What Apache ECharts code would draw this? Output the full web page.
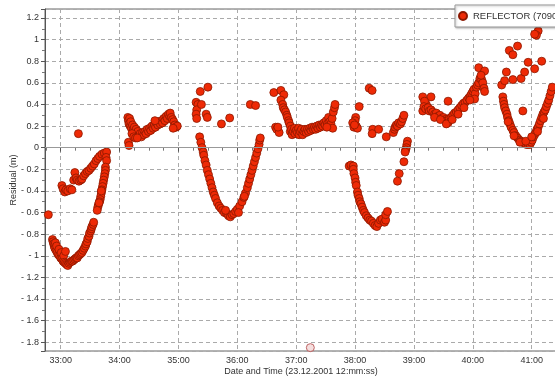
<!DOCTYPE html>
<html>
<head>
<meta charset="utf-8">
<script src="https://cdn.jsdelivr.net/npm/echarts@6/dist/echarts.min.js"></script>
<style>
  html, body { margin: 0; padding: 0; background: #fff; }
  #chart { width: 555px; height: 377px; }
</style>
</head>
<body>
<div id="chart"></div>
<script>
// time in minutes past 12:00 (23.12.2001), residual in metres
const pass1 = [
  [32.79,-0.62],[33.30,0.13],
  [32.86,-0.85],[32.87,-0.87],[32.88,-0.89],[32.89,-0.91],[32.90,-0.93],[32.91,-0.88],[32.92,-0.95],[32.93,-0.91],
  [32.94,-0.97],[32.96,-0.99],[32.97,-0.94],[32.98,-1.00],[33.00,-1.02],[33.01,-0.97],[33.02,-1.03],[33.04,-1.05],
  [33.05,-1.00],[33.06,-1.06],[33.08,-1.07],[33.10,-1.08],[33.12,-1.09],[33.14,-1.07],[33.16,-1.06],[33.18,-1.05],
  [33.20,-1.05],[33.22,-1.04],[33.24,-1.03],[33.26,-1.02],[33.28,-1.02],[33.30,-1.00],[33.32,-0.99],[33.34,-0.98],
  [33.36,-0.97],[33.38,-0.95],[33.40,-0.93],[33.42,-0.91],[33.43,-0.89],[33.45,-0.87],[33.46,-0.84],[33.48,-0.82],
  [33.49,-0.79],[33.51,-0.77],[33.52,-0.75],[33.53,-0.73],[33.55,-0.71],[33.56,-0.69],[33.08,-0.96],
  [33.02,-0.35],[33.04,-0.38],[33.07,-0.41],[33.09,-0.39],[33.12,-0.40],[33.16,-0.38],[33.19,-0.39],[33.22,-0.30],
  [33.24,-0.23],[33.26,-0.28],[33.28,-0.30],[33.31,-0.31],[33.34,-0.30],[33.36,-0.29],[33.39,-0.26],[33.42,-0.24],
  [33.45,-0.22],[33.48,-0.21],[33.51,-0.19],[33.54,-0.17],[33.57,-0.15],[33.60,-0.12],[33.63,-0.10],[33.66,-0.08],
  [33.70,-0.06],[33.74,-0.05],[33.78,-0.04],[33.77,-0.09],[33.78,-0.12],
  [33.76,-0.18],[33.76,-0.21],[33.75,-0.24],[33.74,-0.27],[33.73,-0.30],[33.72,-0.33],[33.71,-0.36],[33.70,-0.39],
  [33.69,-0.42],[33.68,-0.45],[33.67,-0.48],[33.66,-0.50],[33.64,-0.53],[33.63,-0.55],[33.62,-0.58],[33.65,-0.51],[33.69,-0.40]
];
const pass2 = [
  [34.15,0.05],[34.16,0.02],
  [34.14,0.28],[34.15,0.25],[34.16,0.22],[34.17,0.27],[34.18,0.20],[34.19,0.24],[34.20,0.18],[34.22,0.21],[34.23,0.16],
  [34.25,0.19],[34.26,0.14],[34.28,0.17],[34.29,0.12],[34.31,0.15],[34.33,0.11],[34.35,0.13],[34.37,0.10],[34.39,0.14],
  [34.41,0.12],[34.43,0.15],[34.45,0.13],[34.47,0.17],[34.49,0.15],[34.51,0.18],[34.53,0.16],[34.55,0.20],[34.57,0.18],
  [34.59,0.21],[34.61,0.19],[34.63,0.23],[34.65,0.21],[34.67,0.24],[34.69,0.22],[34.71,0.25],[34.73,0.23],[34.75,0.27],
  [34.77,0.25],[34.79,0.29],[34.81,0.27],[34.83,0.31],[34.85,0.29],[34.86,0.32],[34.88,0.28],[34.90,0.26],[34.92,0.24],
  [34.94,0.21],[34.96,0.19],[34.98,0.20],[34.91,0.18],[34.60,0.25],[34.21,0.13],[34.24,0.10],[34.27,0.09],[34.30,0.09]
];
const pass3 = [
  [35.50,0.56],[35.37,0.52],[35.30,0.42],[35.33,0.40],[35.31,0.35],[35.30,0.31],[35.31,0.27],[35.39,0.40],
  [35.47,0.31],[35.49,0.28],[35.73,0.22],[35.87,0.275],[36.22,0.40],[36.31,0.39],
  [35.36,0.10],[35.38,0.05],[35.40,0.00],[35.42,-0.04],[35.43,-0.07],[35.45,-0.12],[35.47,-0.16],[35.49,-0.21],
  [35.51,-0.25],[35.53,-0.29],[35.55,-0.33],[35.57,-0.37],[35.59,-0.41],[35.61,-0.44],[35.63,-0.47],[35.66,-0.51],
  [35.69,-0.54],[35.72,-0.56],[35.75,-0.58],[35.78,-0.60],[35.82,-0.61],[35.85,-0.63],[35.88,-0.64],
  [35.91,-0.62],[35.94,-0.61],[35.97,-0.59],[36.00,-0.57],[36.04,-0.54],[36.08,-0.50],[36.11,-0.46],[36.14,-0.42],
  [36.17,-0.37],[36.19,-0.33],[36.21,-0.29],[36.23,-0.25],[36.25,-0.21],[36.27,-0.17],[36.29,-0.13],[36.31,-0.09],
  [36.33,-0.05],[36.35,-0.01],[36.37,0.03],[36.38,0.07],[36.39,0.09],[35.80,-0.58],[36.02,-0.60],[36.12,-0.45]
];
const pass4 = [
  [36.62,0.51],[36.74,0.53],[36.79,0.49],[36.74,0.44],[36.77,0.40],[36.78,0.37],[36.80,0.35],[36.82,0.33],[36.84,0.30],
  [36.85,0.28],[36.87,0.25],[36.88,0.23],[36.90,0.20],[36.65,0.19],[36.67,0.17],[36.71,0.14],[36.69,0.19],
  [36.90,0.15],[36.92,0.17],[36.93,0.12],[36.95,0.15],[36.97,0.18],[36.98,0.13],[37.00,0.16],[37.02,0.14],[37.04,0.18],
  [37.05,0.12],[37.07,0.15],[37.09,0.17],[37.11,0.12],[37.13,0.15],[37.15,0.17],[37.17,0.14],[37.19,0.17],[37.21,0.15],
  [37.23,0.18],[37.25,0.16],[37.27,0.19],[37.29,0.17],[37.31,0.19],[37.33,0.17],[37.35,0.20],[37.37,0.18],[37.39,0.21],
  [37.41,0.19],[37.43,0.21],[37.45,0.20],[37.47,0.23],[37.49,0.21],[37.51,0.25],[37.53,0.22],[37.55,0.28],[37.57,0.24],
  [37.59,0.22],[37.61,0.27],[37.63,0.33],[37.65,0.37],[37.66,0.40],[37.62,0.18],[37.52,0.19]
];
const pass5 = [
  [38.07,0.38],[38.01,0.28],[38.00,0.25],[37.96,0.23],[37.98,0.19],[38.02,0.20],[38.04,0.18],[37.99,0.21],
  [38.24,0.55],[38.29,0.53],[38.30,0.17],[38.29,0.13],[38.40,0.17],[38.53,0.10],[38.65,0.14],[38.67,0.17],[38.68,0.19],
  [38.70,0.21],[38.72,0.20],[38.74,0.23],[38.77,0.22],[38.79,0.24],[38.81,0.27],[38.83,0.30],
  [38.89,0.06],[38.88,0.03],[38.87,0.00],[38.86,-0.02],[38.85,-0.04],[38.83,-0.13],[38.75,-0.24],[38.72,-0.31],
  [37.90,-0.17],[37.93,-0.16],[37.97,-0.17],[37.97,-0.20],[37.98,-0.24],[38.00,-0.28],[38.01,-0.32],[38.02,-0.35],
  [38.04,-0.41],[38.05,-0.44],[38.07,-0.47],[38.08,-0.50],[38.10,-0.52],[38.12,-0.55],[38.14,-0.58],[38.16,-0.60],
  [38.19,-0.63],[38.22,-0.65],[38.25,-0.67],[38.28,-0.68],[38.31,-0.70],[38.34,-0.72],[38.37,-0.73],[38.40,-0.70],
  [38.43,-0.67],[38.46,-0.66],[38.50,-0.69],[38.52,-0.67],[38.52,-0.62],[38.55,-0.59]
];
const pass6 = [
  [39.15,0.47],[39.29,0.47],[39.21,0.40],[39.18,0.43],[39.15,0.34],[39.17,0.38],[39.20,0.36],[39.24,0.37],[39.26,0.34],
  [39.29,0.35],[39.32,0.33],[39.35,0.31],[39.38,0.32],[39.41,0.29],[39.44,0.30],[39.47,0.27],[39.50,0.28],[39.53,0.26],
  [39.56,0.25],[39.58,0.23],[39.60,0.27],[39.63,0.28],[39.66,0.30],[39.69,0.32],[39.72,0.33],[39.75,0.35],[39.78,0.37],
  [39.81,0.39],[39.84,0.41],[39.87,0.42],[39.90,0.44],[39.93,0.46],[39.96,0.48],[39.98,0.50],[40.00,0.52],[40.02,0.54],
  [40.04,0.50],[40.06,0.56],[40.08,0.58],[40.10,0.60],[40.12,0.64],[40.15,0.63],[40.17,0.60],[40.19,0.55],[40.20,0.52],
  [40.10,0.74],[40.20,0.71],[40.14,0.67],[39.58,0.43],[40.03,0.45],
  [39.35,0.28],[39.45,0.26],[39.55,0.22],[39.65,0.26],[39.75,0.31],[39.85,0.37],[39.95,0.44]
];
const pass7 = [
  [40.49,0.58],[40.51,0.47],[40.52,0.43],[40.53,0.40],[40.54,0.37],[40.56,0.34],[40.58,0.31],[40.59,0.28],[40.61,0.25],
  [40.63,0.22],[40.65,0.19],[40.68,0.16],[40.70,0.14],[40.73,0.11],[40.76,0.09],[40.79,0.07],[40.82,0.06],[40.85,0.05],
  [40.88,0.04],[40.91,0.03],[40.94,0.03],[40.97,0.03],[40.99,0.05],[41.01,0.07],[41.03,0.10],[41.05,0.12],[41.07,0.14],
  [41.09,0.17],[41.11,0.19],[41.13,0.22],[41.15,0.25],[41.17,0.28],[41.19,0.31],[41.21,0.33],[41.23,0.35],[41.25,0.38],
  [41.27,0.41],[41.29,0.44],[41.31,0.48],[41.33,0.52],[41.35,0.56],
  [40.60,0.24],[40.70,0.11],[40.80,0.05],[40.90,0.06],[41.00,0.10],[41.10,0.15],[41.20,0.27],
  [40.57,0.70],[40.62,0.90],[40.68,0.86],[40.76,0.94],[40.68,0.63],[40.82,0.64],[40.88,0.70],[40.94,0.79],[41.05,0.73],
  [41.17,0.80],[40.85,0.34],[41.11,1.08],[41.08,1.04],[41.05,1.05],[40.54,0.62]
];
const cursorPoint = [[37.24,-1.85]];

const xTicks = [33,34,35,36,37,38,39,40,41];
const seriesName = 'REFLECTOR (7090)';

const chart = echarts.init(document.getElementById('chart'));
const font = 'Liberation Sans, Arial, sans-serif';

chart.setOption({
  animation: false,
  backgroundColor: '#fff',
  textStyle: { fontFamily: font },
  grid: {
    left: 45, top: 9, right: -2, bottom: 26,
    outerBoundsMode: 'none', containLabel: false,
    show: true, borderColor: '#666', borderWidth: 1
  },
  legend: {
    data: [seriesName],
    left: 455, top: 5,
    padding: [6, 8, 6, 3],
    icon: 'circle', itemWidth: 8, itemHeight: 8, itemGap: 6,
    backgroundColor: '#fff', borderColor: '#999', borderWidth: 1,
    shadowColor: 'rgba(0,0,0,0.25)', shadowBlur: 2, shadowOffsetX: 1, shadowOffsetY: 1,
    textStyle: { fontSize: 9.5, color: '#333', fontFamily: font, padding: [0, 0, 0, 1] }
  },
  xAxis: {
    type: 'value',
    min: 32.733, max: 41.43,
    minInterval: 1, maxInterval: 1,
    name: 'Date and Time (23.12.2001 12:mm:ss)',
    nameLocation: 'middle', nameGap: 16, nameMoveOverlap: false,
    nameTextStyle: { fontSize: 9, color: '#333' },
    axisLine: { lineStyle: { color: '#555' } },
    axisTick: { length: 4, lineStyle: { color: '#555' } },
    minorTick: { show: true, splitNumber: 4, length: 3, lineStyle: { color: '#777' } },
    axisLabel: {
      fontSize: 9, color: '#333', margin: 5,
      showMinLabel: false, showMaxLabel: false,
      formatter: v => xTicks.indexOf(Math.round(v * 1000) / 1000) >= 0 ? v + ':00' : ''
    },
    splitLine: { show: true, lineStyle: { color: '#aaa', type: [4, 3] } }
  },
  yAxis: {
    type: 'value',
    min: -1.881, max: 1.283,
    minInterval: 0.2, maxInterval: 0.2,
    name: 'Residual (m)',
    nameLocation: 'middle', nameGap: 27, nameMoveOverlap: false,
    nameTextStyle: { fontSize: 9, color: '#333' },
    axisLine: { show: true, lineStyle: { color: '#555' } },
    axisTick: { show: true, length: 4, lineStyle: { color: '#555' } },
    minorTick: { show: true, splitNumber: 2, length: 3, lineStyle: { color: '#777' } },
    axisLabel: {
      fontSize: 9, color: '#333', margin: 6,
      showMinLabel: false, showMaxLabel: false,
      formatter: v => {
        const r = Math.round(v * 10) / 10;
        return r < 0 ? '- ' + Math.abs(r) : String(r);
      }
    },
    splitLine: { show: true, lineStyle: { color: '#aaa', type: [4, 3] } }
  },
  series: [
    {
      type: 'scatter',
      name: 'cursor',
      z: 1,
      data: cursorPoint,
      symbolSize: 8,
      itemStyle: { color: '#f3d6d6', borderColor: '#b04545', borderWidth: 1 },
      markLine: {
        silent: true,
        symbol: ['none', 'none'],
        label: { show: false },
        lineStyle: { color: '#999', type: 'solid', width: 1 },
        data: [{ yAxis: 0 }]
      }
    },
    {
      type: 'scatter',
      name: seriesName,
      z: 2,
      data: [].concat(pass1, pass2, pass3, pass4, pass5, pass6, pass7),
      symbolSize: 8,
      itemStyle: { color: '#ee2a06', borderColor: '#8c1800', borderWidth: 0.8, opacity: 1 }
    }
  ]
});
</script>
</body>
</html>
